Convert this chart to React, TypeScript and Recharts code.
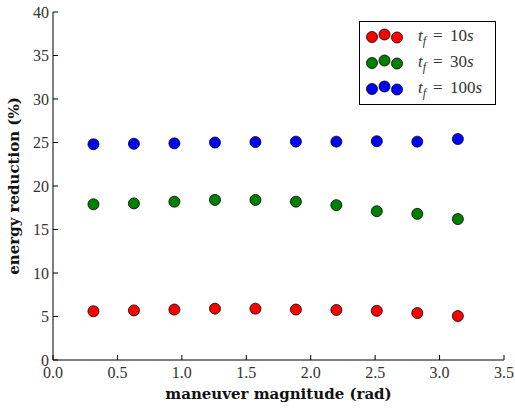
import React from 'react';
import { ScatterChart, Scatter, XAxis, YAxis } from 'recharts';

// maneuver magnitude (rad)
const magnitudes = [0.314, 0.628, 0.942, 1.257, 1.571, 1.885, 2.199, 2.513, 2.827, 3.142];
// energy reduction (%) per final time
const tf10 = [5.6, 5.7, 5.8, 5.9, 5.9, 5.8, 5.75, 5.65, 5.4, 5.05];
const tf30 = [17.9, 18.0, 18.2, 18.4, 18.4, 18.2, 17.8, 17.1, 16.8, 16.2];
const tf100 = [24.8, 24.85, 24.9, 25.0, 25.05, 25.1, 25.1, 25.15, 25.1, 25.4];

const xTicks = [0, 0.5, 1, 1.5, 2, 2.5, 3, 3.5];
const yTicks = [0, 5, 10, 15, 20, 25, 30, 35, 40];

const series = [
  { label: '10', color: '#ff0000', values: tf10 },
  { label: '30', color: '#008000', values: tf30 },
  { label: '100', color: '#0000ff', values: tf100 },
];

const FONT = '"Liberation Serif", "DejaVu Serif", serif';
const LABEL_FONT = '"DejaVu Serif", serif';

const dot = (color: string) => (props: any) => (
  <circle cx={props.cx} cy={props.cy} r={5.5} fill={color} stroke="#000" strokeWidth={0.8} />
);

const LegendBox = () => (
  <svg width={137} height={84} style={{ display: 'block' }}>
    <rect x={0.5} y={0.5} width={136} height={83} fill="#fff" stroke="#000" strokeWidth={1} />
    {series.map((s, i) => {
      const cy = 15 + i * 26;
      return (
        <g key={s.label}>
          <circle cx={13} cy={cy + 1} r={5.5} fill={s.color} stroke="#000" strokeWidth={0.8} />
          <circle cx={25.5} cy={cy - 1.5} r={5.5} fill={s.color} stroke="#000" strokeWidth={0.8} />
          <circle cx={38} cy={cy + 1.5} r={5.5} fill={s.color} stroke="#000" strokeWidth={0.8} />
          <text x={59} y={cy + 5} fontFamily={FONT} fontSize={17} fill="#333">
            <tspan fontStyle="italic">t</tspan>
            <tspan fontStyle="italic" fontSize={12} dy={4}>f</tspan>
            <tspan x={74} dy={-4}>=</tspan>
            <tspan x={91}>{s.label}</tspan>
            <tspan fontStyle="italic">s</tspan>
          </text>
        </g>
      );
    })}
  </svg>
);

export default function App() {
  return (
    <div style={{ position: 'absolute', left: 0, top: 0, width: 515, height: 409, background: '#fff' }}>
      <ScatterChart
        width={515}
        height={409}
        margin={{ top: 12, right: 11, bottom: 0, left: 0 }}
        style={{ fontFamily: FONT }}
      >
        <XAxis
          type="number"
          dataKey="x"
          xAxisId="b"
          domain={[0, 3.5]}
          ticks={xTicks}
          tickFormatter={(v: number) => v.toFixed(1)}
          height={49}
          tickSize={-5}
          tickMargin={12}
          stroke="#000"
          tick={{ fill: '#333', fontSize: 16 }}
          label={{ value: 'maneuver magnitude (rad)', position: 'insideBottom', offset: 10, fill: '#111', fontSize: 15, fontWeight: 'bold', fontFamily: LABEL_FONT }}
        />
        <XAxis
          type="number"
          dataKey="x"
          xAxisId="t"
          orientation="top"
          domain={[0, 3.5]}
          ticks={xTicks}
          tickFormatter={() => ''}
          height={0}
          tickSize={-5}
          stroke="#000"
        />
        <YAxis
          type="number"
          dataKey="y"
          yAxisId="l"
          domain={[0, 40]}
          ticks={yTicks}
          width={53}
          tickSize={-5}
          tickMargin={9}
          stroke="#000"
          tick={{ fill: '#333', fontSize: 16 }}
          label={{ value: 'energy reduction (%)', angle: -90, position: 'insideLeft', offset: 14, fill: '#111', fontSize: 15, fontWeight: 'bold', fontFamily: LABEL_FONT, style: { textAnchor: 'middle' } }}
        />
        <YAxis
          type="number"
          dataKey="y"
          yAxisId="r"
          orientation="right"
          domain={[0, 40]}
          ticks={yTicks}
          tickFormatter={() => ''}
          width={0}
          tickSize={-5}
          stroke="#000"
        />
        {series.map(s => (
          <Scatter
            key={s.label}
            xAxisId="b"
            yAxisId="l"
            data={magnitudes.map((x, i) => ({ x, y: s.values[i] }))}
            shape={dot(s.color)}
            isAnimationActive={false}
          />
        ))}
      </ScatterChart>
      <div style={{ position: 'absolute', left: 359, top: 21 }}>
        <LegendBox />
      </div>
    </div>
  );
}
